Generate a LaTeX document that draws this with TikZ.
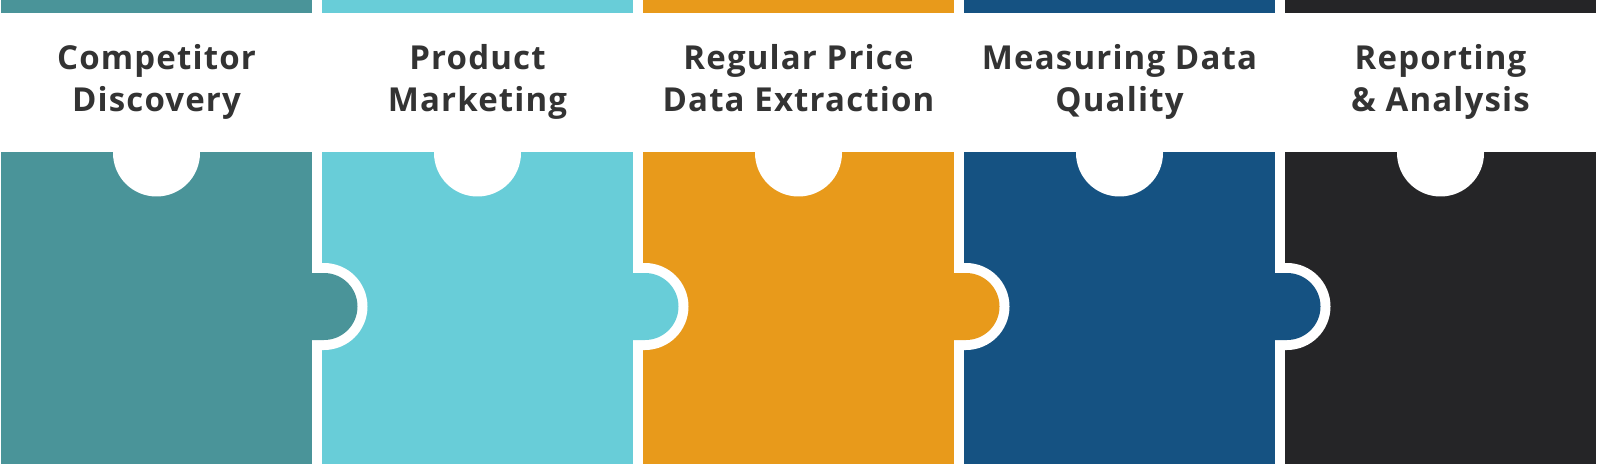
\documentclass[tikz,border=0pt]{standalone}
\usepackage{fontspec}
\setmainfont{Open Sans}[LetterSpace=3.5]
\definecolor{cA}{HTML}{4A9499}
\definecolor{cB}{HTML}{68CDD8}
\definecolor{cC}{HTML}{E89A1B}
\definecolor{cD}{HTML}{155282}
\definecolor{cE}{HTML}{252527}
\definecolor{txt}{HTML}{333333}
\tikzset{
  lbl/.style={anchor=base, text=txt, font=\fontsize{33}{38}\selectfont\bfseries, inner sep=0pt},
}
\begin{document}
\begin{tikzpicture}[x=1pt,y=1pt]
\useasboundingbox (0,0) rectangle (1597,464);
\fill[white] (0,0) rectangle (1597,464);
\foreach \k/\c in {0/cA,1/cB,2/cC,3/cD,4/cE}{
  \pgfmathsetmacro{\xo}{1+321*\k}
  \pgfmathsetmacro{\xr}{\xo+311}
  \pgfmathsetmacro{\xm}{\xo+155.5}
  \fill[\c] (\xo,451) rectangle (\xr,464);
  \fill[\c] (\xo,0) rectangle (\xr,312);
  \fill[white] (\xm,311) circle[radius=43.5];
}
\foreach \k/\c in {0/cA,1/cB,2/cC,3/cD}{
  \pgfmathsetmacro{\xo}{1+321*\k}
  \pgfmathsetmacro{\xr}{\xo+311}
  \fill[white] (\xr,114) -- ({\xr+12},114) arc[start angle=-90,end angle=90,radius=43.5] -- (\xr,201) -- cycle;
  \fill[\c] ({\xr-1},124) -- ({\xr+12},124) arc[start angle=-90,end angle=90,radius=33.5] -- ({\xr-1},191) -- cycle;
}
\node[lbl] (t1a) at (156.5,394) {Competitor};
\node[lbl] (t1b) at (156.5,352) {Discovery};
\node[lbl] (t2a) at (477.5,394) {Product};
\node[lbl] (t2b) at (477.5,352) {Marketing};
\node[lbl] (t3a) at (798.5,394) {Regular Price};
\node[lbl] (t3b) at (798.5,352) {Data Extraction};
\node[lbl] (t4a) at (1119.5,394) {Measuring Data};
\node[lbl] (t4b) at (1119.5,352) {Quality};
\node[lbl] (t5a) at (1440.5,394) {Reporting};
\node[lbl] (t5b) at (1440.5,352) {\& Analysis};
\end{tikzpicture}
\end{document}
